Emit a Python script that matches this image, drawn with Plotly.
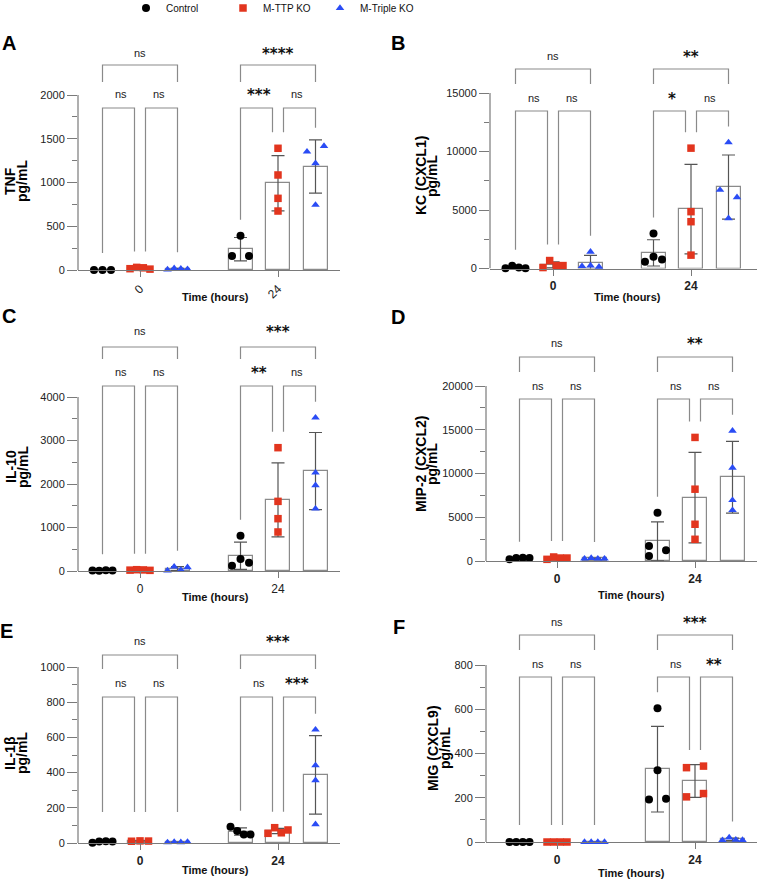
import numpy as np
import plotly.graph_objects as go

W, H = 760, 880

# ---------------- data ----------------
groups = ["Control", "M-TTP KO", "M-Triple KO"]
time_labels = ["0", "24"]

tnf_control = [[0, 0, 0], [160, 392, 160]]
tnf_ttp = [[15, 30, 25, 10], [1391, 1086, 819, 674]]
tnf_triple = [[5, 20, 15, 10], [1352, 1417, 1219, 743]]
tnf_sig = [["ns", "ns", "ns"], ["****", "***", "ns"]]

kc_control = [[30, 230, 90, 30], [571, 1000, 771, 3000]]
kc_ttp = [[80, 680, 250, 250], [10286, 4857, 4000, 1143]]
kc_triple = [[200, 1430, 250, 150], [10771, 6714, 6086, 4286]]
kc_sig = [["ns", "ns", "ns"], ["**", "*", "ns"]]

il10_control = [[10, 5, 15, 10], [122, 276, 191, 812]]
il10_ttp = [[20, 30, 25, 15], [2835, 1601, 1203, 897]]
il10_triple = [[10, 100, 25, 85], [3525, 2260, 1969, 1433]]
il10_sig = [["ns", "ns", "ns"], ["***", "**", "ns"]]

mip2_control = [[190, 340, 380, 340], [5520, 1714, 1219, 571]]
mip2_ttp = [[190, 460, 340, 340], [14123, 8207, 4199, 2481]]
mip2_triple = [[270, 340, 270, 270], [14886, 10649, 6947, 5802]]
mip2_sig = [["ns", "ns", "ns"], ["**", "ns", "ns"]]

il1b_control = [[2, 9, 10, 8], [93, 68, 49, 49]]
il1b_ttp = [[10, 12, 11], [55, 87, 58, 74]]
il1b_triple = [[3, 5, 4, 6], [644, 441, 356, 106]]
il1b_sig = [["ns", "ns", "ns"], ["***", "ns", "***"]]

mig_control = [[0, 0, 0, 0], [604, 324, 192, 196]]
mig_ttp = [[0, 0, 0, 0], [336, 343, 204, 219]]
mig_triple = [[0, 0, 0, 0], [8, 20, 10, 9]]
mig_sig = [["ns", "ns", "ns"], ["***", "ns", "**"]]

# ---------------- styles ----------------
FONT = "Liberation Sans, Arial, Helvetica, sans-serif"
colors = ["#000000", "#E2351E", "#2A4CF5"]
symbols = ["circle", "square", "triangle-up"]
msizes = [8, 7.5, 7.5]
GRAY = "#8a8a8a"
AXC = "#7a7a7a"
ERRC = "#555555"
SP = 138.0          # px between time groups
BOFF = 37.5         # px between bars in a group
BW = 24.0           # bar width px

panels = [
    dict(letter="A", lab=("TNF", "pg/mL"), data=(tnf_control, tnf_ttp, tnf_triple), sig=tnf_sig,
         x0=78, x1=340, g0=140, y0=270, yt=95, ymax=2000, major=500,
         br=(205, 188, 217, 162, 176, 17), tx=(10, 22), ty=181, L=(9, 43), xt=(215, 297),
         angle=-45, bold=False),
    dict(letter="B", lab=("KC (CXCL1)", "pg/mL"), data=(kc_control, kc_ttp, kc_triple), sig=kc_sig,
         x0=490, x1=757, g0=553, y0=268.5, yt=93, ymax=15000, major=5000,
         br=(199.5, 184.5, 212.5, 157.5, 170.5, 18.5), tx=(421, 432), ty=176, L=(398, 43), xt=(627, 297),
         angle=0, bold=True),
    dict(letter="C", lab=("IL-10", "pg/mL"), data=(il10_control, il10_ttp, il10_triple), sig=il10_sig,
         x0=78, x1=340, g0=140, y0=571, yt=397, ymax=4000, major=1000,
         br=(224, 212, 240, 185, 199, 16), tx=(11, 23), ty=467, L=(9, 316), xt=(215, 597),
         angle=0, bold=False),
    dict(letter="D", lab=("MIP-2 (CXCL2)", "pg/mL"), data=(mip2_control, mip2_ttp, mip2_triple), sig=mip2_sig,
         x0=486, x1=757, g0=557, y0=561, yt=386, ymax=20000, major=5000,
         br=(204, 189, 218, 162, 175, 19), tx=(421, 432), ty=464, L=(398, 317), xt=(631, 595),
         angle=0, bold=True),
    dict(letter="E", lab=("IL-1β", "pg/mL"), data=(il1b_control, il1b_ttp, il1b_triple), sig=il1b_sig,
         x0=78, x1=340, g0=140, y0=843, yt=667, ymax=1000, major=200,
         br=(188, 174, 202, 146, 160, 31), tx=(10, 22), ty=753, L=(7, 631), xt=(215, 870),
         angle=0, bold=True),
    dict(letter="F", lab=("MIG (CXCL9)", "pg/mL"), data=(mig_control, mig_ttp, mig_triple), sig=mig_sig,
         x0=486, x1=757, g0=557, y0=842, yt=665, ymax=800, major=200,
         br=(207, 192, 220, 165, 178, 17), tx=(433, 445), ty=748, L=(399, 627), xt=(631, 873),
         angle=0, bold=True),
]


def jitter_px(vals, ppu, d=8.5, T=8.0, half4=10.0):
    vals = np.asarray(vals, float)
    n = len(vals)
    order = np.argsort(vals, kind="stable")
    clusters, cur = [], [order[0]]
    for a, b in zip(order[:-1], order[1:]):
        if (vals[b] - vals[a]) * ppu < T:
            cur.append(b)
        else:
            clusters.append(cur)
            cur = [b]
    clusters.append(cur)
    off = np.zeros(n)
    for c in clusters:
        c = sorted(c)
        m = len(c)
        ext = (vals[c].max() - vals[c].min()) * ppu
        if m == 1:
            pos = [0.0]
        elif m == 2:
            pos = [-d, d]
        elif m == 3 and ext < T:
            pos = [-d, 0.0, d]
        elif m == 3:
            pos = [-d, d, -d]
        else:
            pos = list(np.linspace(-half4, half4, m))
        for i, p in zip(c, pos):
            off[i] = p
    return off


fig = go.Figure()
lay = {}
shapes = []
annots = []
scatter_traces = []

for pi, p in enumerate(panels):
    k = "" if pi == 0 else str(pi + 1)
    xa, ya = "x" + k, "y" + k
    ppu = (p["y0"] - p["yt"]) / p["ymax"]          # px per data unit
    top_px_above = p["br"][2] + 14
    ytop = top_px_above / ppu
    xmin = -(p["g0"] - p["x0"]) / SP
    xmax = (p["x1"] - p["g0"]) / SP
    offs = [-BOFF / SP, 0.0, BOFF / SP]

    majors = list(np.arange(0, p["ymax"] + 1, p["major"]))
    minors = [m + p["major"] / 2 for m in majors[:-1]]
    lay["xaxis" + k] = dict(
        domain=[p["x0"] / W, p["x1"] / W], range=[xmin, xmax], anchor=ya,
        showline=True, linecolor=AXC, linewidth=1.2, showgrid=False, zeroline=False,
        tickmode="array", tickvals=[0, 1], ticktext=time_labels,
        ticks="outside", ticklen=6, tickwidth=1.2, tickcolor=AXC,
        tickangle=p["angle"],
        tickfont=dict(family=FONT, size=12, color="#222",
                      weight="bold" if p["bold"] else "normal"),
        fixedrange=True)
    lay["yaxis" + k] = dict(
        domain=[1 - p["y0"] / H, 1 - (p["y0"] - top_px_above) / H], range=[0, ytop], anchor=xa,
        showline=False, showgrid=False, zeroline=False,
        tickmode="array", tickvals=majors, ticktext=[str(int(v)) for v in majors],
        ticks="outside", ticklen=10, tickwidth=1.2, tickcolor=AXC,
        tickfont=dict(family=FONT, size=11, color="#222"),
        minor=dict(tickmode="array", tickvals=minors, ticks="outside", ticklen=5,
                   tickwidth=1.2, tickcolor=AXC, showgrid=False),
        fixedrange=True)
    # y axis line only up to the top tick
    shapes.append(dict(type="line", xref=xa + " domain", yref=ya, x0=0, x1=0, y0=0, y1=p["ymax"],
                       line=dict(color=AXC, width=1.2)))

    tops = {}
    for gi in range(3):
        series = p["data"][gi]
        for ti in range(2):
            vals = np.asarray(series[ti], float)
            mean = vals.mean()
            sd = vals.std(ddof=1)
            xc = ti + offs[gi]
            fig.add_trace(go.Bar(
                x=[xc], y=[mean], width=[BW / SP], xaxis=xa, yaxis=ya, showlegend=False,
                marker=dict(color="white", line=dict(color=GRAY, width=1.2)),
                error_y=dict(type="data", array=[sd], color=ERRC, thickness=1.2, width=6.5),
                hoverinfo="skip"))
            jit = jitter_px(vals, ppu) / SP
            scatter_traces.append(go.Scatter(
                x=xc + jit, y=vals, mode="markers", xaxis=xa, yaxis=ya,
                name=groups[gi], legendgroup=groups[gi],
                showlegend=(pi == 0 and ti == 0), cliponaxis=False,
                marker=dict(color=colors[gi], symbol=symbols[gi], size=msizes[gi], line=dict(width=0)),
                hoverinfo="skip"))
            tops[(gi, ti)] = max(vals.max() * ppu + 4, (mean + sd) * ppu)

    # significance brackets
    top_line, top_leg, top_text, low_line, low_text, floor = p["br"]
    for ti in range(2):
        xl, xm, xr = ti + offs[0], ti + offs[1], ti + offs[2]
        g = 5.5 / SP
        path = f"M {xl},{top_leg / ppu} L {xl},{top_line / ppu} L {xr},{top_line / ppu} L {xr},{top_leg / ppu}"
        shapes.append(dict(type="path", xref=xa, yref=ya, path=path, line=dict(color=GRAY, width=1.2)))
        pairs = [(xl, xm - g, 0, 1), (xm + g, xr, 1, 2)]
        for (xa0, xa1, ga, gb) in pairs:
            ea = max(floor, tops[(ga, ti)] + 12)
            eb = max(floor, tops[(gb, ti)] + 12)
            path = (f"M {xa0},{ea / ppu} L {xa0},{low_line / ppu} L {xa1},{low_line / ppu} "
                    f"L {xa1},{eb / ppu}")
            shapes.append(dict(type="path", xref=xa, yref=ya, path=path, line=dict(color=GRAY, width=1.2)))
        labels = p["sig"][ti]
        pos = [((xl + xr) / 2, top_text), ((xl + xm) / 2, low_text), ((xm + xr) / 2, low_text)]
        for lab, (xx, yy) in zip(labels, pos):
            if lab == "ns":
                annots.append(dict(x=xx, y=yy / ppu, xref=xa, yref=ya, text=lab, showarrow=False,
                                   font=dict(family=FONT, size=11, color="#222"),
                                   xanchor="center", yanchor="middle"))
            else:
                annots.append(dict(x=xx, y=yy / ppu, xref=xa, yref=ya, text=lab, showarrow=False,
                                   font=dict(family="DejaVu Sans", size=15, color="#111", weight="bold"),
                                   xanchor="center", yanchor="middle", yshift=-1))

    # texts
    annots.append(dict(x=p["L"][0] / W, y=1 - p["L"][1] / H, xref="paper", yref="paper",
                       text=p["letter"], showarrow=False, xanchor="center", yanchor="middle",
                       font=dict(family=FONT, size=20, color="#000", weight="bold")))
    for line_txt, xx in zip(p["lab"], p["tx"]):
        annots.append(dict(x=xx / W, y=1 - p["ty"] / H, xref="paper", yref="paper",
                           text=line_txt, showarrow=False, textangle=-90,
                           xanchor="center", yanchor="middle",
                           font=dict(family=FONT, size=14, color="#000", weight="bold")))
    annots.append(dict(x=p["xt"][0] / W, y=1 - p["xt"][1] / H, xref="paper", yref="paper",
                       text="Time (hours)", showarrow=False, xanchor="center", yanchor="middle",
                       font=dict(family=FONT, size=11, color="#111", weight="bold")))

for t in scatter_traces:
    fig.add_trace(t)

fig.update_layout(
    width=W, height=H, margin=dict(l=0, r=0, t=0, b=0, autoexpand=False),
    paper_bgcolor="white", plot_bgcolor="white",
    barmode="overlay", bargap=0,
    shapes=shapes, annotations=annots,
    showlegend=True,
    legend=dict(orientation="h", x=126 / W, y=1 - 8 / H, xanchor="left", yanchor="middle",
                font=dict(family=FONT, size=10, color="#111"),
                entrywidth=52, entrywidthmode="pixels", bgcolor="rgba(0,0,0,0)",
                itemclick=False, itemdoubleclick=False),
    **lay,
)

fig.write_html("out.html", post_script="document.body.style.margin='0px';",
               config={"displayModeBar": False})
